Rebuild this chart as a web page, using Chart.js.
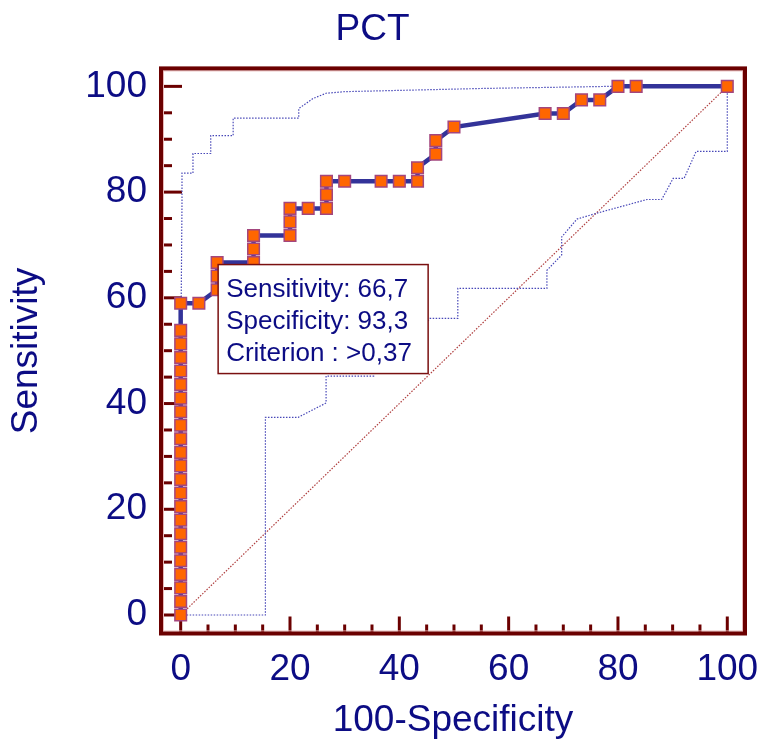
<!DOCTYPE html>
<html>
<head>
<meta charset="utf-8">
<script src="https://cdn.jsdelivr.net/npm/chart.js@4"></script>
<style>
html, body { margin: 0; padding: 0; background: #fff; }
</style>
</head>
<body>
<canvas id="rocChart" width="764" height="747"></canvas>
<script>
// ROC curve points (100-Specificity, Sensitivity)
const rocX = [0, 0, 0, 0, 0, 0, 0, 0, 0, 0, 0, 0, 0, 0, 0, 0, 0, 0, 0, 0, 0, 0, 0,
  3.33, 6.67, 6.67, 6.67, 13.33, 13.33, 13.33, 20, 20, 20, 23.33, 26.67, 26.67, 26.67,
  30, 36.67, 40, 43.33, 43.33, 46.67, 46.67, 50, 66.67, 70, 73.33, 76.67, 80, 83.33, 100];
const rocY = [0, 2.56, 5.13, 7.69, 10.26, 12.82, 15.38, 17.95, 20.51, 23.08, 25.64, 28.21,
  30.77, 33.33, 35.90, 38.46, 41.03, 43.59, 46.15, 48.72, 51.28, 53.85, 58.97,
  58.97, 61.54, 64.10, 66.67, 66.67, 69.23, 71.79, 71.79, 74.36, 76.92, 76.92, 76.92, 79.49, 82.05,
  82.05, 82.05, 82.05, 82.05, 84.62, 87.18, 89.74, 92.31, 94.87, 94.87, 97.44, 97.44, 100, 100, 100];

// 95% confidence bounds
const upperX = [0, 0.1, 0.24, 0.24, 2.25, 2.25, 5.5, 5.5, 9.6, 9.6, 21.6, 21.6, 24.2, 26.6, 30, 55, 78.5, 100];
const upperY = [0, 60, 78, 83.6, 83.6, 87.3, 87.3, 90.7, 90.7, 94.0, 94.0, 95.8, 97.7, 98.7, 99.0, 99.6, 100, 100];
const lowerX = [0, 15.5, 15.5, 21.5, 26.6, 26.6, 35.3, 35.3, 43, 45.6, 50.7, 50.7, 67, 67, 69.7, 69.7,
  72.5, 76.1, 85.3, 88, 90.1, 92.1, 94.3, 100, 100];
const lowerY = [0, 0, 37.4, 37.4, 40.1, 45.2, 45.2, 48, 53, 56.1, 56.1, 61.8, 61.8, 65.2, 68.1, 71.5,
  74.9, 76.0, 78.6, 78.6, 82.6, 82.6, 87.7, 87.7, 100];

const diagX = [0, 100];
const diagY = [0, 100];

// tick positions (labels every 20)
const tickValues = [0, 5, 10, 15, 20, 25, 30, 35, 40, 45, 50, 55, 60, 65, 70, 75, 80, 85, 90, 95, 100];

// optimal criterion
const cutX = 6.67;
const cutY = 66.67;
const boxLines = ['Sensitivity: 66,7', 'Specificity: 93,3', 'Criterion : >0,37'];

const navy = '#0c0c84';
const frameRed = '#6b0000';
const fontFamily = "'Liberation Sans', Arial, sans-serif";
const bigFont = { family: fontFamily, size: 37, weight: 'normal' };

function pairs(xs, ys) {
  return xs.map((v, i) => ({ x: v, y: ys[i] }));
}

const framePlugin = {
  id: 'rocFrame',
  beforeDatasetsDraw(chart) {
    const { ctx, chartArea: a, scales: { x, y } } = chart;
    ctx.save();
    ctx.strokeStyle = frameRed;
    ctx.lineWidth = 3;
    tickValues.forEach(v => {
      const major = v % 20 === 0;
      const px = x.getPixelForValue(v);
      ctx.beginPath();
      ctx.moveTo(px, a.bottom);
      ctx.lineTo(px, a.bottom - (major ? 17 : 9));
      ctx.stroke();
      const py = y.getPixelForValue(v);
      ctx.beginPath();
      ctx.moveTo(a.left, py);
      ctx.lineTo(a.left + (major ? 21 : 11), py);
      ctx.stroke();
    });
    ctx.restore();
  },
  afterDatasetsDraw(chart) {
    const { ctx, chartArea: a, scales: { x, y } } = chart;
    ctx.save();
    // frame
    ctx.strokeStyle = '#e8b8b8';
    ctx.lineWidth = 1;
    ctx.strokeRect(a.left + 2.5, a.top + 2.5, a.width - 5, a.height - 5);
    ctx.strokeStyle = frameRed;
    ctx.lineWidth = 4;
    ctx.strokeRect(a.left, a.top, a.width, a.height);

    // criterion box
    const bx = x.getPixelForValue(cutX) + 1;
    const by = y.getPixelForValue(cutY) + 2;
    ctx.fillStyle = '#fff';
    ctx.fillRect(bx, by, 210, 109);
    ctx.strokeStyle = '#7a1010';
    ctx.lineWidth = 1.5;
    ctx.strokeRect(bx, by, 210, 109);
    ctx.fillStyle = navy;
    ctx.font = '26px ' + fontFamily;
    ctx.textBaseline = 'alphabetic';
    boxLines.forEach((t, i) => ctx.fillText(t, bx + 8, by + 32 + i * 32));
    ctx.restore();
  }
};

const ctx = document.getElementById('rocChart').getContext('2d');
const rocChart = new Chart(ctx, {
  type: 'scatter',
  data: {
    datasets: [{
      label: 'ROC',
      data: pairs(rocX, rocY),
      showLine: true,
      borderColor: '#333399',
      borderWidth: 4.5,
      pointStyle: 'rect',
      pointRadius: 8.2,
      pointBackgroundColor: '#ff6600',
      pointBorderColor: '#a3467e',
      pointBorderWidth: 1.5
    }, {
      label: 'Upper',
      data: pairs(upperX, upperY),
      showLine: true,
      borderColor: '#4848b8',
      borderWidth: 1.2,
      borderDash: [1.5, 1.5],
      pointRadius: 0
    }, {
      label: 'Lower',
      data: pairs(lowerX, lowerY),
      showLine: true,
      borderColor: '#4848b8',
      borderWidth: 1.2,
      borderDash: [1.5, 1.5],
      pointRadius: 0
    }, {
      label: 'Diagonal',
      data: pairs(diagX, diagY),
      showLine: true,
      borderColor: '#b04040',
      borderWidth: 1.2,
      borderDash: [1.5, 1.5],
      pointRadius: 0
    }]
  },
  options: {
    responsive: false,
    animation: false,
    events: [],
    layout: { padding: { right: 19 } },
    plugins: {
      legend: { display: false },
      tooltip: { enabled: false },
      title: {
        display: true,
        text: 'PCT',
        color: navy,
        font: bigFont,
        padding: { top: 8, bottom: 16 }
      }
    },
    scales: {
      x: {
        type: 'linear',
        min: -3.6,
        max: 103.24,
        grid: { display: false, drawTicks: false },
        border: { display: false },
        afterBuildTicks: s => { s.ticks = tickValues.map(v => ({ value: v })); },
        afterFit: s => { s.height = 113.5; s.paddingLeft = 0; s.paddingRight = 0; },
        ticks: {
          color: navy,
          font: bigFont,
          padding: 14,
          autoSkip: false,
          maxRotation: 0,
          callback: v => (v % 20 === 0 ? String(v) : '')
        },
        title: {
          display: true,
          text: '100-Specificity',
          color: navy,
          font: bigFont,
          padding: { top: 0, bottom: 4 }
        }
      },
      y: {
        type: 'linear',
        min: -3.5,
        max: 103.4,
        grid: { display: false, drawTicks: false },
        border: { display: false },
        afterBuildTicks: s => { s.ticks = tickValues.map(v => ({ value: v })); },
        afterFit: s => { s.width = 161; s.paddingTop = 0; s.paddingBottom = 0; },
        ticks: {
          color: navy,
          font: bigFont,
          padding: 14,
          autoSkip: false,
          callback: v => (v % 20 === 0 ? String(v) : '')
        },
        title: {
          display: true,
          text: 'Sensitivity',
          color: navy,
          font: bigFont,
          padding: { top: 5, bottom: 0 }
        }
      }
    }
  },
  plugins: [framePlugin]
});
</script>
</body>
</html>
